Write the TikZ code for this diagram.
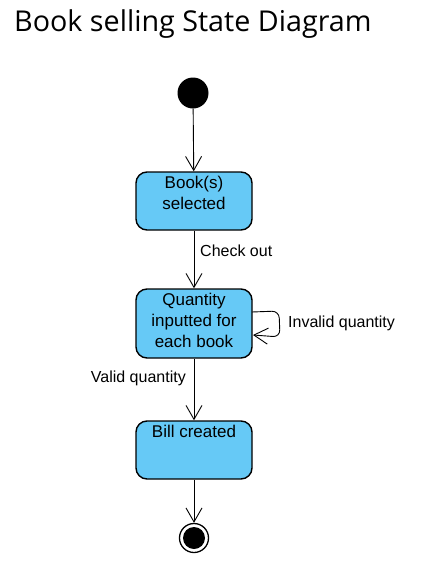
\documentclass[tikz,border=0pt]{standalone}
\usepackage{fontspec}
\setmainfont{Liberation Sans}
\newfontfamily\titlefont{Open Sans}
\usetikzlibrary{arrows.meta}
\definecolor{statefill}{RGB}{102,201,246}
\tikzset{
  statebox/.style={draw=black, line width=1.4pt, fill=statefill, rounded corners=11pt,
    minimum width=116pt, inner sep=0pt},
  statetext/.style={anchor=north, align=center, font=\fontsize{17}{21}\selectfont, inner sep=0pt},
  conn/.style={line width=0.9pt, -{Straight Barb[length=14pt,width=16pt,line width=0.9pt]}},
  lbl/.style={font=\fontsize{16}{19}\selectfont, inner sep=0pt}
}
\begin{document}
\begin{tikzpicture}[x=1pt,y=-1pt]
\useasboundingbox (0,0) rectangle (444,579);
\node[anchor=base west, inner sep=0pt, font=\titlefont\fontsize{28.7}{34}\selectfont] (title) at (14,31.5) {Book selling State Diagram};

\node[circle, fill=black, minimum size=31pt, inner sep=0pt] (start) at (193,93) {};

\node[statebox, minimum height=58pt] (b1) at (194,201) {};
\node[statetext] (b1t) at (194,176) {Book(s)\\selected};

\node[statebox, minimum height=69pt] (q) at (194,323.5) {};
\node[statetext] (qt) at (194,293) {Quantity\\inputted for\\each book};

\node[statebox, minimum height=58pt] (bill) at (194,450) {};
\node[statetext] (billt) at (194,425) {Bill created};

\node[circle, draw=black, fill=white, line width=1.3pt, minimum size=29pt, inner sep=0pt] (end) at (194,538) {};
\node[circle, fill=black, minimum size=22pt, inner sep=0pt] (endin) at (end.center) {};

\draw[conn] (start) -- (b1);
\draw[conn] (b1) -- (q);
\draw[conn] (q) -- (bill);
\draw[conn] (bill) -- (end);

\coordinate (l1) at (252,312);
\coordinate (l2) at (253,335);
\draw[conn, rounded corners=7pt] (l1) -- (279,311) -- (280,337) -- (l2);

\node[lbl, anchor=west] (co) at (200,251) {Check out};
\node[lbl, anchor=west] (iq) at (288,323) {Invalid quantity};
\node[lbl, anchor=east] (vq) at (186,378) {Valid quantity};
\end{tikzpicture}
\end{document}
